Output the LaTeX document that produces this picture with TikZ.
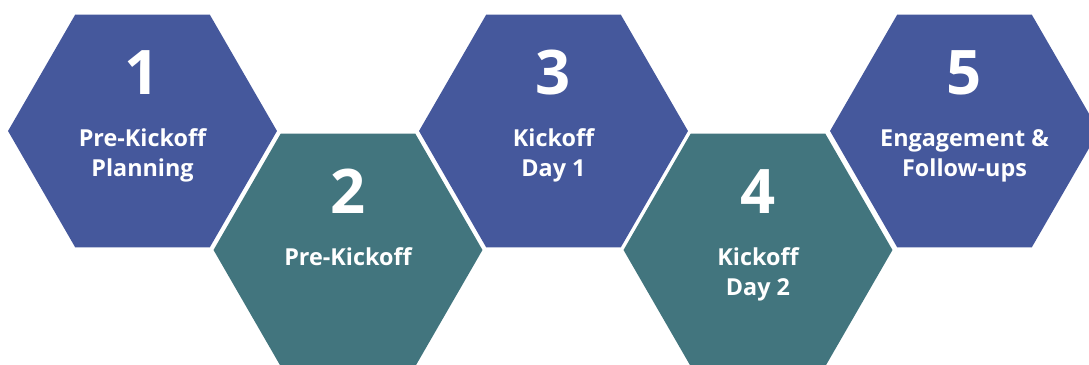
\documentclass[tikz,border=0pt]{standalone}
\usepackage{fontspec}
\setmainfont{Open Sans}
\usetikzlibrary{shapes.geometric}
\definecolor{stepblue}{HTML}{45589C}
\definecolor{stepteal}{HTML}{42757E}

\begin{document}
\begin{tikzpicture}[x=0.02cm,y=-0.02cm,
        hex/.style={regular polygon,regular polygon sides=6,minimum size=5.38cm,inner sep=0pt,outer sep=0pt},
        num/.style={text=white,font=\fontsize{35}{35}\selectfont\bfseries,anchor=base,yshift=21pt},
        lbl/.style={text=white,font=\fontsize{13.3}{17}\selectfont\bfseries,align=center,anchor=base,yshift=-9pt},
        lbltwo/.style={lbl,yshift=-17pt}]
        \clip (0,0) rectangle (1089,365);
        \node[hex,fill=stepblue] (hex1) at (142.5,131) {};
        \node[hex,fill=stepteal] (hex2) at (348,250) {};
        \node[hex,fill=stepblue] (hex3) at (553.5,131) {};
        \node[hex,fill=stepteal] (hex4) at (758,250) {};
        \node[hex,fill=stepblue] (hex5) at (964.5,131) {};
        \node[num] (num1) at (hex1.center) {1};
        \node[lbltwo] (lbl1) at (hex1.center) {Pre-Kickoff\\Planning};
        \node[num] (num2) at (hex2.center) {2};
        \node[lbl] (lbl2) at (hex2.center) {Pre-Kickoff};
        \node[num] (num3) at (hex3.center) {3};
        \node[lbltwo] (lbl3) at (hex3.center) {Kickoff\\Day 1};
        \node[num] (num4) at (hex4.center) {4};
        \node[lbltwo] (lbl4) at (hex4.center) {Kickoff\\Day 2};
        \node[num] (num5) at (hex5.center) {5};
        \node[lbltwo] (lbl5) at (hex5.center) {Engagement \&\\Follow-ups};
    \end{tikzpicture}
\end{document}
